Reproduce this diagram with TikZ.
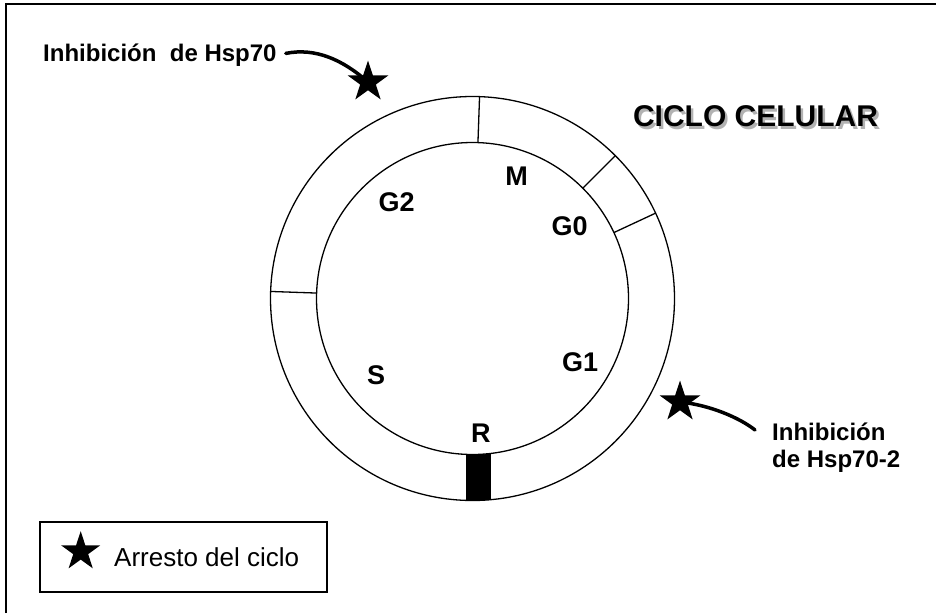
\documentclass[tikz,border=0pt]{standalone}
\usepackage{fontspec}
\setmainfont{Liberation Sans}
\usetikzlibrary{shapes.geometric}

\begin{document}
\begin{tikzpicture}[x=1pt,y=-1pt,
  phase/.style={font=\bfseries\fontsize{27}{32}\selectfont, inner sep=0pt},
  inhib/.style={font=\bfseries\fontsize{24}{27}\selectfont, inner sep=0pt, align=left},
  arrest/.style={star, star points=5, star point ratio=2.6, fill=black, inner sep=0pt, minimum size=43pt},
  hit/.style={line width=3.5pt, line cap=round},
  ring/.style={line width=1.3pt}]

\useasboundingbox (0,0) rectangle (936,613);
\draw[line width=2pt] (6,613) -- (6,4) -- (936,4);

\coordinate (c) at (472.5,298.5);

% punto R
\begin{scope}
\clip (c) circle (202);
\fill (466,440) rectangle (491,510);
\end{scope}
\draw[ring, fill=white] (c) circle (156);
\draw[ring] (c) circle (202);

\foreach \a in {-88,-45,-25,-178}
  \draw[ring, shift={(c)}] (\a:156) -- (\a:202);

\node[phase] (m) at (516.7,176.5) {M};
\node[phase] (g2) at (396.7,202) {G2};
\node[phase] (g0) at (569.7,226) {G0};
\node[phase] (g1) at (580,362) {G1};
\node[phase] (s) at (376,375.5) {S};
\node[phase] (r) at (480.8,433.7) {R};

\node[font=\bfseries\fontsize{30}{34}\selectfont, text=gray!60, anchor=base, inner sep=0pt] (sombra) at (758,129.2) {CICLO CELULAR};
\node[font=\bfseries\fontsize{30}{34}\selectfont, anchor=base, inner sep=0pt] (titulo) at (755.5,126.7) {CICLO CELULAR};

\node[inhib, anchor=base west] (inh1) at (43,61.7) {Inhibición\ \ de Hsp70};
\node[inhib, anchor=north west] (inh2) at (772,423) {Inhibición\\de Hsp70-2};

\node[arrest] (st1) at (368,82) {};
\node[arrest] (st2) at (680,402) {};

\draw[hit] ([xshift=9pt,yshift=2pt]inh1.east) .. controls +(30,-6) and +(-25,-22) .. (st1.center);
\draw[hit] (st2.center) .. controls +(30,3) and +(-15,-12) .. ([xshift=-17pt,yshift=-7pt]inh2.north west);

% leyenda
\node[draw, line width=1.3pt, minimum width=287pt, minimum height=70pt, inner sep=0pt] (leyenda) at (183.5,557) {};
\node[arrest, minimum size=41pt] (st3) at (80.7,551.7) {};
\node[font=\fontsize{26}{30}\selectfont, anchor=base west, inner sep=0pt] (arresto) at (114,566.7) {Arresto del ciclo};

\end{tikzpicture}
\end{document}
